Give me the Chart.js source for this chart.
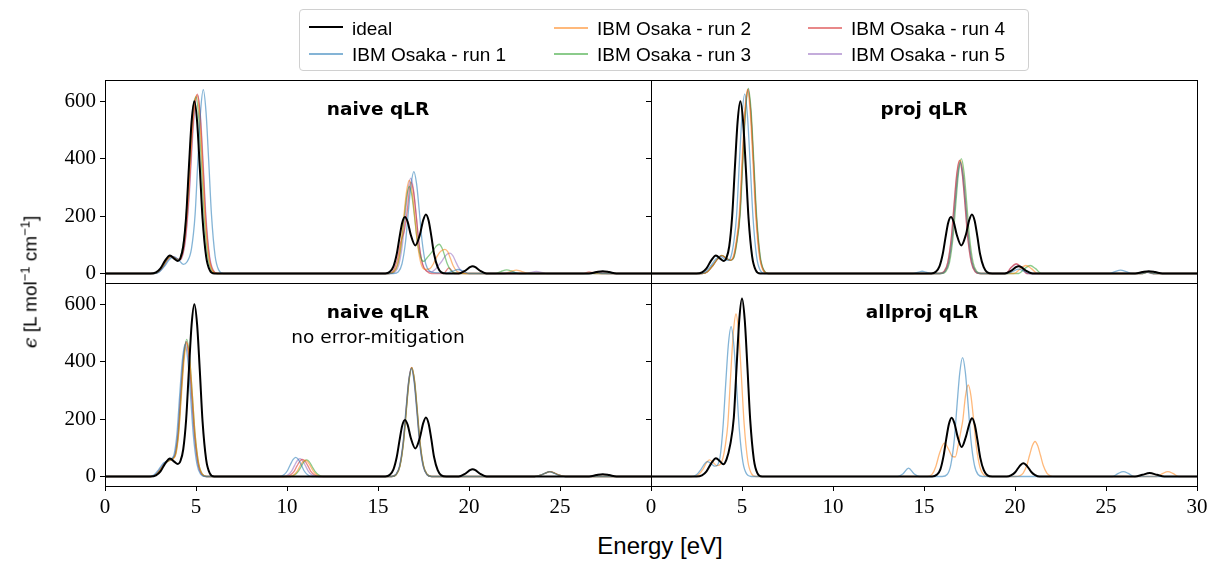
<!DOCTYPE html>
<html>
<head>
<meta charset="utf-8">
<script src="https://cdn.jsdelivr.net/npm/chart.js@4.4.1/dist/chart.umd.min.js"></script>
<style>
  body { margin: 0; background: #fff; width: 1211px; height: 562px; position: relative; overflow: hidden; }
  canvas { position: absolute; }
  .tag { position: absolute; font-family: "DejaVu Sans", sans-serif; font-size: 18.5px; line-height: 1; color: #000; transform: translateX(-50%); white-space: nowrap; }
  .tag.b { font-weight: bold; }
  #legend { position: absolute; left: 299px; top: 9px; width: 730px; height: 62px; border: 1px solid #d0d0d0; border-radius: 4px; box-sizing: border-box; }
  .item { position: absolute; font-family: "Liberation Sans", sans-serif; font-size: 19px; line-height: 1; color: #000; white-space: nowrap; }
  .swatch { position: absolute; }
  #xlabel { position: absolute; left: 660px; top: 534px; transform: translateX(-50%); font-family: "Liberation Sans", sans-serif; font-size: 24px; line-height: 1; white-space: nowrap; }
  #ylabel { position: absolute; left: 30px; top: 282px; transform: translate(-50%, -50%) rotate(-90deg); font-family: "Liberation Sans", sans-serif; font-size: 19px; line-height: 1; white-space: nowrap; }
  #ylabel sup { font-size: 13px; vertical-align: 7px; line-height: 0; }
</style>
</head>
<body>
<canvas id="naive" width="636" height="263" style="left:35px;top:60px"></canvas>
<canvas id="proj" width="636" height="263" style="left:581px;top:60px"></canvas>
<canvas id="raw" width="636" height="263" style="left:35px;top:263px"></canvas>
<canvas id="allproj" width="636" height="263" style="left:581px;top:263px"></canvas>

<div class="tag b" style="left:378px;top:100px">naive qLR</div>
<div class="tag b" style="left:924px;top:100px">proj qLR</div>
<div class="tag b" style="left:378px;top:303px">naive qLR</div>
<div class="tag" style="left:378px;top:328px">no error-mitigation</div>
<div class="tag b" style="left:922px;top:303px">allproj qLR</div>

<div id="legend"></div>
<div id="xlabel">Energy [eV]</div>
<div id="ylabel"><span style="font-family:'DejaVu Serif',serif;font-style:italic">ϵ</span> [L mol<sup>−1</sup> cm<sup>−1</sup>]</div>

<script>
// axis ticks
const energyTicks = [0, 5, 10, 15, 20, 25, 30];
const epsTicks = [0, 200, 400, 600];

const seriesNames = ['ideal', 'IBM Osaka - run 1', 'IBM Osaka - run 2', 'IBM Osaka - run 3', 'IBM Osaka - run 4', 'IBM Osaka - run 5'];
const runColors = ['rgba(31,119,180,0.55)', 'rgba(255,127,14,0.55)', 'rgba(44,160,44,0.55)', 'rgba(214,39,40,0.55)', 'rgba(148,103,189,0.55)'];

// ideal spectra [energy eV, epsilon]
const idealQLR = [
  [0,0],[2.5,0],[2.8,4],[3.05,18],[3.3,45],[3.57,63],[3.8,52],[4.0,44],[4.15,55],[4.3,95],[4.46,200],[4.61,370],[4.76,530],[4.91,600],
  [5.06,530],[5.21,368],[5.36,192],[5.56,58],[5.76,11],[6.0,0],
  [15.4,0],[15.65,6],[15.85,25],[16.03,68],[16.18,125],[16.33,177],[16.48,197],[16.63,180],[16.8,135],[17.05,98],[17.3,135],
  [17.48,185],[17.63,206],[17.78,185],[17.93,130],[18.08,68],[18.28,22],[18.48,4],[18.75,0],
  [19.3,0],[19.55,2],[19.75,8],[19.9,15],[20.05,22],[20.2,25],[20.35,22],[20.5,15],[20.65,8],[20.85,2],[21.1,0],
  [26.6,0],[27.0,5],[27.35,8],[27.7,5],[28.1,0],[30,0]
];
const idealAllproj = [
  [0,0],[2.5,0],[2.8,4],[3.05,18],[3.3,45],[3.57,64],[3.8,52],[3.97,43],[4.15,60],[4.35,110],[4.55,205],[4.7,378],[4.85,546],[5.0,620],
  [5.15,546],[5.3,378],[5.45,198],[5.65,60],[5.85,11],[6.1,0],
  [15.45,0],[15.7,6],[15.9,25],[16.07,70],[16.22,130],[16.37,183],[16.52,205],[16.67,186],[16.85,138],[17.07,103],[17.3,138],
  [17.49,183],[17.64,203],[17.79,180],[17.94,126],[18.09,66],[18.29,21],[18.49,4],[18.75,0],
  [19.55,0],[19.8,5],[20.01,15],[20.16,28],[20.31,40],[20.46,46],[20.61,40],[20.76,28],[20.91,15],[21.11,5],[21.35,0],
  [26.6,0],[27.0,6],[27.4,12],[27.8,6],[28.2,0],[30,0]
];

// naive qLR, error-mitigated runs
const naiveRun1 = [
  [0,0],[2.7,0],[3.0,6],[3.3,28],[3.55,50],[3.8,58],[4.05,47],[4.3,32],[4.5,40],[4.75,86],[4.95,205],[5.1,390],[5.25,563],[5.4,640],
  [5.55,563],[5.7,390],[5.85,205],[6.05,61],[6.25,12],[6.5,0],
  [15.85,0],[16.12,6],[16.32,34],[16.52,114],[16.67,217],[16.82,312],[16.97,355],[17.12,312],[17.27,217],[17.42,114],[17.62,34],
  [17.85,8],[18.1,3],[18.8,2],[19.1,8],[19.4,14],[19.7,8],[20.0,0],
  [22.0,0],[22.4,5],[22.8,0],[26.5,0],[26.9,4],[27.3,0],[30,0]
];
const naiveRun2 = [
  [0,0],[2.6,0],[2.9,5],[3.15,22],[3.4,48],[3.65,60],[3.9,52],[4.1,48],[4.25,70],[4.4,130],[4.6,290],[4.75,460],[4.9,585],[5.05,620],
  [5.2,545],[5.35,378],[5.5,198],[5.7,60],[5.9,11],[6.15,0],
  [15.6,0],[15.87,6],[16.07,31],[16.27,104],[16.42,198],[16.57,286],[16.72,325],[16.87,286],[17.02,198],[17.17,104],[17.37,33],
  [17.6,14],[17.85,17],[18.05,35],[18.23,58],[18.38,73],[18.53,81],[18.68,84],[18.83,76],[18.98,52],[19.13,27],[19.33,8],[19.55,2],[19.8,0],
  [21.9,0],[22.3,7],[22.6,12],[22.9,7],[23.3,0],[26.4,0],[26.8,4],[27.2,0],[30,0]
];
const naiveRun3 = [
  [0,0],[2.6,0],[2.9,5],[3.15,22],[3.4,48],[3.62,60],[3.85,52],[4.05,47],[4.2,68],[4.35,125],[4.55,285],[4.7,455],[4.85,580],[5.0,615],
  [5.15,541],[5.3,375],[5.45,197],[5.65,59],[5.85,11],[6.1,0],
  [15.6,0],[15.87,6],[16.07,29],[16.27,97],[16.42,185],[16.57,267],[16.72,303],[16.87,268],[17.02,190],[17.17,108],[17.35,55],
  [17.52,42],[17.7,55],[17.9,70],[18.06,83],[18.21,96],[18.36,102],[18.51,90],[18.66,63],[18.81,33],[19.01,10],[19.25,2],[19.5,0],
  [21.45,0],[21.75,7],[22.07,13],[22.4,7],[22.7,0],[30,0]
];
const naiveRun4 = [
  [0,0],[2.6,0],[2.9,5],[3.15,22],[3.4,48],[3.65,60],[3.9,52],[4.1,48],[4.28,70],[4.43,130],[4.63,290],[4.78,465],[4.93,590],[5.08,625],
  [5.23,550],[5.38,381],[5.53,200],[5.73,60],[5.93,11],[6.2,0],
  [15.6,0],[15.85,10],[16.05,45],[16.25,110],[16.45,150],[16.6,215],[16.8,318],[16.95,285],[17.1,200],[17.25,105],[17.45,33],
  [17.7,7],[17.95,0],[18.6,0],[18.9,20],[19.2,0],[26.3,0],[26.6,6],[26.9,0],[30,0]
];
const naiveRun5 = [
  [0,0],[2.6,0],[2.95,5],[3.2,22],[3.45,48],[3.7,60],[3.95,52],[4.15,48],[4.3,70],[4.45,130],[4.65,290],[4.8,460],[4.95,585],[5.1,620],
  [5.25,545],[5.4,378],[5.55,198],[5.75,60],[5.95,11],[6.2,0],
  [15.7,0],[15.95,6],[16.15,32],[16.35,106],[16.5,203],[16.65,292],[16.8,332],[16.95,292],[17.1,203],[17.25,106],[17.45,33],
  [17.7,8],[17.95,6],[18.15,15],[18.35,30],[18.51,43],[18.66,58],[18.81,68],[18.96,71],[19.11,62],[19.26,43],[19.41,23],[19.61,7],[19.85,1],[20.1,0],
  [23.1,0],[23.4,4],[23.7,7],[24.0,4],[24.3,0],[26.8,0],[27.2,5],[27.6,0],[30,0]
];

// proj qLR runs
const projRun1 = [
  [0,0],[2.7,0],[3.0,6],[3.3,28],[3.55,50],[3.8,60],[4.05,50],[4.25,46],[4.4,60],[4.55,110],[4.7,200],[4.85,381],[5.0,550],[5.15,625],
  [5.3,550],[5.45,381],[5.6,200],[5.8,60],[6.0,11],[6.25,0],
  [14.4,0],[14.7,5],[14.9,8],[15.1,5],[15.4,0],
  [15.9,0],[16.15,7],[16.35,37],[16.55,124],[16.7,237],[16.85,341],[17.0,388],[17.15,341],[17.3,237],[17.45,124],[17.65,37],[17.85,7],[18.1,0],
  [19.6,0],[19.9,8],[20.2,15],[20.5,8],[20.8,0],[25.2,0],[25.5,7],[25.8,12],[26.1,7],[26.4,0],[27.0,0],[27.3,5],[27.6,0],[30,0]
];
const projRun2 = [
  [0,0],[2.8,0],[3.1,6],[3.4,28],[3.65,50],[3.9,62],[4.15,52],[4.35,46],[4.5,55],[4.65,100],[4.85,205],[5.0,390],[5.15,563],[5.3,640],
  [5.45,563],[5.6,390],[5.75,205],[5.95,61],[6.15,12],[6.4,0],
  [15.9,0],[16.15,7],[16.35,38],[16.55,126],[16.7,241],[16.85,348],[17.0,395],[17.15,348],[17.3,241],[17.45,126],[17.65,38],[17.85,7],[18.1,0],
  [19.95,0],[20.3,17],[20.6,28],[20.9,17],[21.25,0],[27.0,0],[27.3,5],[27.6,0],[30,0]
];
const projRun3 = [
  [0,0],[2.8,0],[3.1,6],[3.4,28],[3.65,50],[3.9,63],[4.15,53],[4.38,46],[4.55,55],[4.7,100],[4.9,206],[5.05,393],[5.2,568],[5.35,645],
  [5.5,568],[5.65,393],[5.8,206],[6.0,62],[6.2,12],[6.45,0],
  [15.95,0],[16.2,7],[16.4,38],[16.6,128],[16.75,244],[16.9,352],[17.05,400],[17.2,352],[17.35,244],[17.5,128],[17.7,38],[17.9,7],[18.15,0],
  [20.2,0],[20.53,17],[20.83,28],[21.13,17],[21.45,0],[27.0,0],[27.3,5],[27.6,0],[30,0]
];
const projRun4 = [
  [0,0],[2.8,0],[3.1,6],[3.4,28],[3.65,50],[3.88,63],[4.13,53],[4.36,46],[4.53,55],[4.68,100],[4.88,205],[5.03,392],[5.18,565],[5.33,642],
  [5.48,565],[5.63,392],[5.78,205],[5.98,62],[6.18,12],[6.43,0],
  [15.85,0],[16.1,7],[16.3,38],[16.5,126],[16.65,241],[16.8,348],[16.95,395],[17.1,348],[17.25,241],[17.4,126],[17.6,38],[17.8,7],[18.05,0],
  [19.5,0],[19.77,20],[20.07,34],[20.37,20],[20.65,0],[27.0,0],[27.3,6],[27.6,0],[30,0]
];
const projRun5 = [
  [0,0],[2.8,0],[3.1,6],[3.4,28],[3.65,50],[3.88,62],[4.13,53],[4.36,46],[4.53,55],[4.68,100],[4.88,205],[5.03,390],[5.18,563],[5.33,640],
  [5.48,563],[5.63,390],[5.78,205],[5.98,61],[6.18,12],[6.43,0],
  [15.86,0],[16.11,7],[16.31,38],[16.51,126],[16.66,240],[16.81,346],[16.96,393],[17.11,346],[17.26,240],[17.41,126],[17.61,38],[17.81,7],[18.06,0],
  [19.5,0],[19.77,19],[20.07,33],[20.37,19],[20.65,0],[26.9,0],[27.2,5],[27.5,0],[30,0]
];

// naive qLR, no error mitigation
const rawRun1 = [
  [0,0],[2.4,0],[2.7,6],[2.95,24],[3.2,46],[3.45,56],[3.65,62],[3.8,78],[3.95,147],[4.1,281],[4.25,405],[4.4,460],
  [4.55,405],[4.7,281],[4.85,147],[5.05,44],[5.25,8],[5.5,0],
  [9.58,0],[9.83,6],[10.03,21],[10.18,41],[10.33,59],[10.48,67],[10.63,59],[10.78,41],[10.93,21],[11.13,6],[11.38,0],
  [15.73,0],[15.98,7],[16.18,36],[16.38,120],[16.53,229],[16.68,331],[16.83,376],[16.98,331],[17.13,229],[17.28,120],[17.48,36],[17.68,7],[17.93,0],
  [23.6,0],[23.95,5],[24.2,12],[24.42,17],[24.65,12],[24.9,5],[25.25,0],[30,0]
];
const rawRun2 = [
  [0,0],[2.5,0],[2.8,6],[3.05,24],[3.3,46],[3.55,56],[3.75,62],[3.9,79],[4.05,149],[4.2,284],[4.35,409],[4.5,465],
  [4.65,409],[4.8,284],[4.95,149],[5.15,45],[5.35,8],[5.6,0],
  [10.1,0],[10.35,5],[10.55,18],[10.7,35],[10.85,50],[11.0,57],[11.15,50],[11.3,35],[11.45,18],[11.65,5],[11.9,0],
  [15.75,0],[16.0,7],[16.2,36],[16.4,121],[16.55,231],[16.7,334],[16.85,379],[17.0,334],[17.15,231],[17.3,121],[17.5,36],[17.7,7],[17.95,0],
  [23.6,0],[23.95,5],[24.2,12],[24.45,17],[24.7,12],[24.95,5],[25.3,0],[30,0]
];
const rawRun3 = [
  [0,0],[2.5,0],[2.8,6],[3.05,24],[3.3,46],[3.55,56],[3.74,63],[3.89,81],[4.04,153],[4.19,292],[4.34,421],[4.49,478],
  [4.64,421],[4.79,292],[4.94,153],[5.14,46],[5.34,9],[5.6,0],
  [10.18,0],[10.43,6],[10.63,19],[10.78,35],[10.93,51],[11.08,58],[11.23,51],[11.38,35],[11.53,19],[11.73,6],[11.98,0],
  [15.76,0],[16.01,7],[16.21,36],[16.41,121],[16.56,231],[16.71,334],[16.86,379],[17.01,334],[17.16,231],[17.31,121],[17.51,36],[17.71,7],[17.96,0],
  [23.6,0],[23.95,5],[24.2,12],[24.45,17],[24.7,12],[24.95,5],[25.3,0],[30,0]
];
const rawRun4 = [
  [0,0],[2.5,0],[2.8,6],[3.05,24],[3.3,46],[3.52,56],[3.72,62],[3.87,80],[4.02,150],[4.17,287],[4.32,414],[4.47,470],
  [4.62,414],[4.77,287],[4.92,150],[5.12,45],[5.32,8],[5.57,0],
  [9.95,0],[10.2,6],[10.4,19],[10.55,37],[10.7,53],[10.85,60],[11.0,53],[11.15,37],[11.3,19],[11.5,6],[11.75,0],
  [15.75,0],[16.0,7],[16.2,36],[16.4,121],[16.55,231],[16.7,334],[16.85,380],[17.0,334],[17.15,231],[17.3,121],[17.5,36],[17.7,7],[17.95,0],
  [23.6,0],[23.95,5],[24.2,12],[24.45,17],[24.7,12],[24.95,5],[25.3,0],[30,0]
];
const rawRun5 = [
  [0,0],[2.45,0],[2.75,6],[3.0,24],[3.25,46],[3.5,56],[3.7,62],[3.85,80],[4.0,150],[4.15,287],[4.3,414],[4.45,470],
  [4.6,414],[4.75,287],[4.9,150],[5.1,45],[5.3,8],[5.55,0],
  [9.81,0],[10.06,6],[10.26,20],[10.41,38],[10.56,55],[10.71,62],[10.86,55],[11.01,38],[11.16,20],[11.36,6],[11.61,0],
  [15.74,0],[15.99,7],[16.19,36],[16.39,120],[16.54,230],[16.69,333],[16.84,378],[16.99,333],[17.14,230],[17.29,120],[17.49,36],[17.69,7],[17.94,0],
  [23.6,0],[23.95,5],[24.2,12],[24.45,17],[24.7,12],[24.95,5],[25.3,0],[30,0]
];

// allproj qLR runs
const allprojRun1 = [
  [0,0],[2.2,0],[2.5,6],[2.75,25],[2.95,45],[3.1,52],[3.3,45],[3.5,36],[3.65,40],[3.8,70],[3.95,167],[4.1,318],[4.25,459],[4.4,522],
  [4.55,459],[4.7,318],[4.85,167],[5.05,50],[5.25,9],[5.5,0],
  [13.55,0],[13.85,10],[14.15,29],[14.45,10],[14.75,0],
  [16.0,0],[16.27,7],[16.47,40],[16.67,132],[16.82,253],[16.97,364],[17.12,414],[17.27,364],[17.42,253],[17.57,132],[17.77,40],[17.97,7],[18.22,0],
  [25.35,0],[25.65,10],[25.95,17],[26.25,10],[26.55,0],[30,0]
];
const allprojRun2 = [
  [0,0],[2.3,0],[2.6,6],[2.85,25],[3.05,48],[3.2,58],[3.4,50],[3.6,38],[3.8,42],[3.95,64],[4.07,103],[4.22,181],[4.37,345],[4.52,498],[4.67,566],
  [4.82,498],[4.97,345],[5.12,181],[5.32,54],[5.52,10],[5.77,0],
  [15.2,0],[15.45,8],[15.65,35],[15.85,80],[16.12,116],[16.35,95],[16.55,70],[16.72,68],[16.88,110],[17.03,160],[17.13,195],[17.28,281],[17.43,319],
  [17.58,281],[17.73,195],[17.88,102],[18.08,31],[18.28,6],[18.53,0],
  [20.0,0],[20.25,2],[20.45,12],[20.65,39],[20.8,74],[20.95,107],[21.1,122],[21.25,107],[21.4,74],[21.55,39],[21.75,12],[21.95,2],[22.2,0],
  [27.8,0],[28.1,10],[28.4,17],[28.7,10],[29.0,0],[30,0]
];

// draws the box round each plot area
const frame = {
  id: 'frame',
  afterDraw(chart) {
    const { ctx, chartArea: a } = chart;
    ctx.save();
    ctx.strokeStyle = '#000';
    ctx.lineWidth = 1;
    ctx.strokeRect(Math.round(a.left) + 0.5, Math.round(a.top) + 0.5, Math.round(a.right - a.left), Math.round(a.bottom - a.top));
    ctx.restore();
  }
};

function makePanel(id, ideal, runs, leftCol, bottomRow) {
  const datasets = [{ label: seriesNames[0], data: ideal, borderColor: '#000', borderWidth: 2 }];
  runs.forEach((d, i) => {
    datasets.push({ label: seriesNames[i + 1], data: d, borderColor: runColors[i], borderWidth: 1.3 });
  });
  return new Chart(document.getElementById(id), {
    type: 'line',
    data: { datasets },
    options: {
      responsive: false,
      animation: false,
      layout: { padding: { left: 0, top: 20, right: 20, bottom: 0 } },
      plugins: { legend: { display: false }, tooltip: { enabled: false } },
      elements: {
        point: { radius: 0 },
        line: { cubicInterpolationMode: 'monotone', fill: false }
      },
      scales: {
        x: {
          type: 'linear', min: 0, max: 30, display: bottomRow,
          afterBuildTicks: s => { s.ticks = energyTicks.map(v => ({ value: v })); },
          afterFit: s => { s.height = 40; },
          border: { display: false },
          grid: { drawOnChartArea: false, tickLength: 5, color: '#000' },
          ticks: {
            padding: 4, color: '#000', maxRotation: 0, autoSkip: false,
            font: { family: 'Liberation Serif', size: 21 },
            callback: v => (leftCol && v === 30) ? '' : v
          }
        },
        y: {
          type: 'linear', min: -33, max: 674,
          afterBuildTicks: s => { s.ticks = epsTicks.map(v => ({ value: v })); },
          afterFit: s => { s.width = 70; },
          border: { display: false },
          grid: { drawOnChartArea: false, tickLength: 5, color: '#000' },
          ticks: { display: leftCol, padding: 4, color: '#000', font: { family: 'Liberation Serif', size: 21 } }
        }
      }
    },
    plugins: [frame]
  });
}

makePanel('naive', idealQLR, [naiveRun1, naiveRun2, naiveRun3, naiveRun4, naiveRun5], true, false);
makePanel('proj', idealQLR, [projRun1, projRun2, projRun3, projRun4, projRun5], false, false);
makePanel('raw', idealQLR, [rawRun1, rawRun2, rawRun3, rawRun4, rawRun5], true, true);
makePanel('allproj', idealAllproj, [allprojRun1, allprojRun2], false, true);

// legend, three columns filled top to bottom
const legend = document.getElementById('legend');
const colX = [9, 254, 508];
seriesNames.forEach((name, i) => {
  const col = Math.floor(i / 2), row = i % 2;
  const x = colX[col], y = row === 0 ? 17 : 43;
  const sw = document.createElement('div');
  sw.className = 'swatch';
  sw.style.left = x + 'px';
  sw.style.top = (i === 0 ? y - 1 : y) + 'px';
  sw.style.width = '34px';
  sw.style.height = i === 0 ? '2px' : '1.5px';
  sw.style.background = i === 0 ? '#000' : runColors[i - 1];
  legend.appendChild(sw);
  const t = document.createElement('div');
  t.className = 'item';
  t.textContent = name;
  t.style.left = (x + 43) + 'px';
  t.style.top = (y - 8) + 'px';
  legend.appendChild(t);
});
</script>
</body>
</html>
